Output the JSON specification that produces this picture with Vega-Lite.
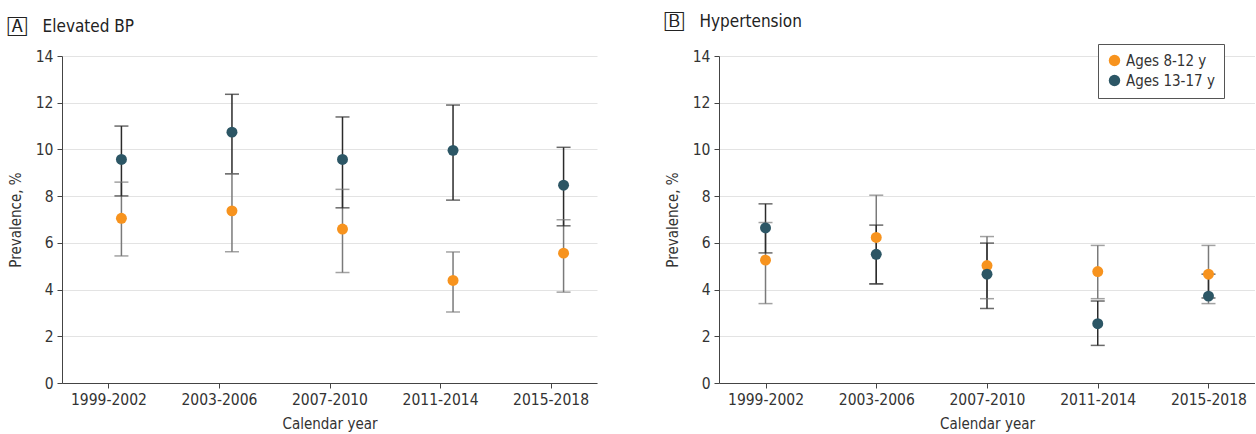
{
  "$schema": "https://vega.github.io/schema/vega-lite/v6.json",
  "background": "white",
  "padding": {"left": 8, "top": 12, "right": 0, "bottom": 0},
  "spacing": 68,
  "config": {
    "font": "DejaVu Sans Condensed",
    "view": {"stroke": null},
    "axis": {
      "labelFontSize": 15.5, "labelColor": "#333", "titleFontSize": 15, "titleFontWeight": "normal",
      "titleColor": "#333", "domainColor": "#444", "tickColor": "#444", "gridColor": "#e3e3e3",
      "tickSize": 5, "labelPadding": 4
    },
    "title": {"anchor": "start", "frame": "bounds", "fontSize": 17, "fontWeight": "normal", "color": "#222", "offset": 13}
  },
  "resolve": {"scale": {"color": "independent"}},
  "datasets": {
    "d": [
      {"panel": "A", "period": "1999-2002", "age": "Ages 8-12 y", "est": 7.05, "lo": 5.44, "hi": 8.6},
      {"panel": "A", "period": "2003-2006", "age": "Ages 8-12 y", "est": 7.37, "lo": 5.62, "hi": 8.95},
      {"panel": "A", "period": "2007-2010", "age": "Ages 8-12 y", "est": 6.59, "lo": 4.73, "hi": 8.29},
      {"panel": "A", "period": "2011-2014", "age": "Ages 8-12 y", "est": 4.39, "lo": 3.04, "hi": 5.61},
      {"panel": "A", "period": "2015-2018", "age": "Ages 8-12 y", "est": 5.56, "lo": 3.89, "hi": 6.99},
      {"panel": "A", "period": "1999-2002", "age": "Ages 13-17 y", "est": 9.57, "lo": 8.01, "hi": 11.0},
      {"panel": "A", "period": "2003-2006", "age": "Ages 13-17 y", "est": 10.74, "lo": 8.96, "hi": 12.36},
      {"panel": "A", "period": "2007-2010", "age": "Ages 13-17 y", "est": 9.57, "lo": 7.5, "hi": 11.39},
      {"panel": "A", "period": "2011-2014", "age": "Ages 13-17 y", "est": 9.96, "lo": 7.83, "hi": 11.9},
      {"panel": "A", "period": "2015-2018", "age": "Ages 13-17 y", "est": 8.47, "lo": 6.73, "hi": 10.09},
      {"panel": "B", "period": "1999-2002", "age": "Ages 8-12 y", "est": 5.26, "lo": 3.4, "hi": 6.87},
      {"panel": "B", "period": "2003-2006", "age": "Ages 8-12 y", "est": 6.23, "lo": 4.23, "hi": 8.04},
      {"panel": "B", "period": "2007-2010", "age": "Ages 8-12 y", "est": 5.03, "lo": 3.61, "hi": 6.27},
      {"panel": "B", "period": "2011-2014", "age": "Ages 8-12 y", "est": 4.77, "lo": 3.61, "hi": 5.89},
      {"panel": "B", "period": "2015-2018", "age": "Ages 8-12 y", "est": 4.66, "lo": 3.4, "hi": 5.89},
      {"panel": "B", "period": "1999-2002", "age": "Ages 13-17 y", "est": 6.64, "lo": 5.57, "hi": 7.67},
      {"panel": "B", "period": "2003-2006", "age": "Ages 13-17 y", "est": 5.51, "lo": 4.25, "hi": 6.76},
      {"panel": "B", "period": "2007-2010", "age": "Ages 13-17 y", "est": 4.66, "lo": 3.19, "hi": 5.99},
      {"panel": "B", "period": "2011-2014", "age": "Ages 13-17 y", "est": 2.54, "lo": 1.61, "hi": 3.51},
      {"panel": "B", "period": "2015-2018", "age": "Ages 13-17 y", "est": 3.72, "lo": 3.64, "hi": 4.66}
    ]
  },
  "hconcat": [
    {
      "title": "🄰\u2003Elevated BP",
      "width": 535, "height": 327,
      "data": {"name": "d"},
      "transform": [{"filter": "datum.panel === 'A'"}],
      "encoding": {
        "x": {"field": "period", "type": "ordinal", "scale": {"type": "point", "padding": 0.42},
              "axis": {"title": "Calendar year", "labelAngle": 0, "grid": false, "titlePadding": 9}}
      },
      "layer": [
        {"mark": {"type": "rule", "strokeWidth": 1.5, "xOffset": 13},
         "encoding": {
           "y": {"field": "lo", "type": "quantitative", "scale": {"domain": [0, 14]},
                 "axis": {"title": "Prevalence, %", "values": [0, 2, 4, 6, 8, 10, 12, 14], "grid": true, "titlePadding": 12}},
           "y2": {"field": "hi"},
           "stroke": {"field": "age", "type": "nominal", "scale": {"domain": ["Ages 8-12 y", "Ages 13-17 y"], "range": ["#7a7a7a", "#2b2b2b"]}, "legend": null}
         }},
        {"mark": {"type": "tick", "thickness": 1.5, "size": 14, "xOffset": 13},
         "encoding": {
           "y": {"field": "lo", "type": "quantitative"},
           "fill": {"field": "age", "type": "nominal", "scale": {"domain": ["Ages 8-12 y", "Ages 13-17 y"], "range": ["#7a7a7a", "#2b2b2b"]}, "legend": null}
         }},
        {"mark": {"type": "tick", "thickness": 1.5, "size": 14, "xOffset": 13},
         "encoding": {
           "y": {"field": "hi", "type": "quantitative"},
           "fill": {"field": "age", "type": "nominal", "scale": {"domain": ["Ages 8-12 y", "Ages 13-17 y"], "range": ["#7a7a7a", "#2b2b2b"]}, "legend": null}
         }},
        {"mark": {"type": "point", "filled": true, "size": 120, "opacity": 1, "xOffset": 13},
         "encoding": {
           "y": {"field": "est", "type": "quantitative"},
           "color": {"field": "age", "type": "nominal", "scale": {"domain": ["Ages 8-12 y", "Ages 13-17 y"], "range": ["#F7931E", "#2C5665"]}, "legend": null}
         }}
      ]
    },
    {
      "title": "🄱\u2003Hypertension",
      "width": 536, "height": 327,
      "data": {"name": "d"},
      "transform": [{"filter": "datum.panel === 'B'"}],
      "encoding": {
        "x": {"field": "period", "type": "ordinal", "scale": {"type": "point", "padding": 0.42},
              "axis": {"title": "Calendar year", "labelAngle": 0, "grid": false, "titlePadding": 9}}
      },
      "layer": [
        {"mark": {"type": "rule", "strokeWidth": 1.5},
         "encoding": {
           "y": {"field": "lo", "type": "quantitative", "scale": {"domain": [0, 14]},
                 "axis": {"title": "Prevalence, %", "values": [0, 2, 4, 6, 8, 10, 12, 14], "grid": true, "titlePadding": 12}},
           "y2": {"field": "hi"},
           "stroke": {"field": "age", "type": "nominal", "scale": {"domain": ["Ages 8-12 y", "Ages 13-17 y"], "range": ["#7a7a7a", "#2b2b2b"]}, "legend": null}
         }},
        {"mark": {"type": "tick", "thickness": 1.5, "size": 14},
         "encoding": {
           "y": {"field": "lo", "type": "quantitative"},
           "fill": {"field": "age", "type": "nominal", "scale": {"domain": ["Ages 8-12 y", "Ages 13-17 y"], "range": ["#7a7a7a", "#2b2b2b"]}, "legend": null}
         }},
        {"mark": {"type": "tick", "thickness": 1.5, "size": 14},
         "encoding": {
           "y": {"field": "hi", "type": "quantitative"},
           "fill": {"field": "age", "type": "nominal", "scale": {"domain": ["Ages 8-12 y", "Ages 13-17 y"], "range": ["#7a7a7a", "#2b2b2b"]}, "legend": null}
         }},
        {"mark": {"type": "point", "filled": true, "size": 120, "opacity": 1},
         "encoding": {
           "y": {"field": "est", "type": "quantitative"},
           "color": {"field": "age", "type": "nominal", "scale": {"domain": ["Ages 8-12 y", "Ages 13-17 y"], "range": ["#F7931E", "#2C5665"]},
                     "legend": {"orient": "none", "legendX": 379, "legendY": -12, "title": null, "strokeColor": "#555",
                                "fillColor": "white", "padding": 9, "labelFontSize": 15, "labelColor": "#333",
                                "symbolSize": 130, "symbolType": "circle", "rowPadding": 4}}
         }}
      ]
    }
  ]
}
